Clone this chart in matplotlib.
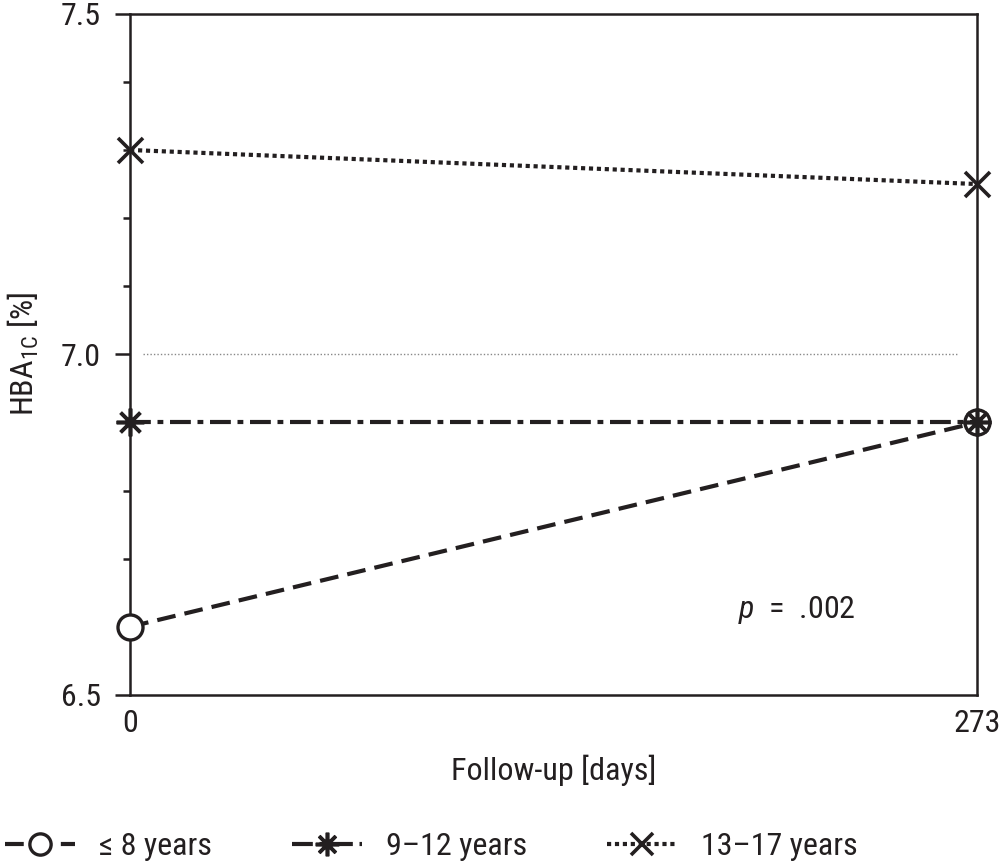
import numpy as np
import matplotlib
matplotlib.use('Agg')
import matplotlib.pyplot as plt
from matplotlib.ticker import MultipleLocator, FormatStrFormatter

# data
days = [0, 273]
age_le8 = [6.6, 6.9]
age_9_12 = [6.9, 6.9]
age_13_17 = [7.3, 7.25]
labels = ['\u2264 8 years', '9\u201312 years', '13\u201317 years']
target = 7.0
p_text = '.002'

fam = ['Roboto Condensed', 'DejaVu Sans']
plt.rcParams['font.family'] = fam
plt.rcParams['mathtext.fontset'] = 'custom'
plt.rcParams['mathtext.rm'] = 'Roboto Condensed'
plt.rcParams['mathtext.it'] = 'Roboto Condensed:italic'
plt.rcParams['font.size'] = 23

fig = plt.figure(figsize=(10.01, 8.61), dpi=100)
ax = fig.add_axes([0.13, 0.193, 0.846, 0.791])

col = '#231f20'
ax.hlines(target, 4, 267, colors='#888888', linestyles=(0, (1, 1.5)), linewidth=1.0)

ax.plot(days, age_le8, color=col, lw=3.0, ls=(0, (4.5, 2.2)), marker='o', ms=18,
        mfc='white', mec=col, mew=2.4, clip_on=False, zorder=3, label=labels[0])
ax.plot(days, age_9_12, color=col, lw=3.0, ls=(0, (5, 1.6, 1.4, 1.6)), marker=(8, 2, 0),
        ms=20, mec=col, mew=2.6, clip_on=False, zorder=4, label=labels[1])
ax.plot(days, age_13_17, color=col, lw=3.0, ls=(0, (1, 0.9)), marker='x', ms=18,
        mec=col, mew=2.6, clip_on=False, zorder=4, label=labels[2])

ax.text(215, 6.625, '$p$  =  ' + p_text, ha='center', va='center', color=col)

ax.set_xlim(0, 273)
ax.set_ylim(6.5, 7.5)
ax.set_xticks(days)
ax.set_xticklabels([str(d) for d in days])
ax.yaxis.set_major_locator(MultipleLocator(0.5))
ax.yaxis.set_minor_locator(MultipleLocator(0.1))
ax.yaxis.set_major_formatter(FormatStrFormatter('%.1f'))
ax.tick_params(axis='y', which='major', length=11, width=1.8, pad=10, colors=col)
ax.tick_params(axis='y', which='minor', length=5, width=1.8, colors=col)
ax.tick_params(axis='x', length=0, pad=10, colors=col)
for s in ax.spines.values():
    s.set_linewidth(1.8)
    s.set_color(col)

ax.set_xlabel('Follow-up [days]', labelpad=12, color=col)
ax.set_ylabel(r'HBA$_{\mathrm{1C}}$ [%]', labelpad=14, color=col)

fig.legend(loc='lower left', bbox_to_anchor=(0.005, 0.0), ncol=3, frameon=False,
           borderpad=0, borderaxespad=0,
           handlelength=2.2, handletextpad=0.75, columnspacing=2.5,
           markerscale=0.85, labelcolor=col)

fig.savefig('out.png', dpi=100)
